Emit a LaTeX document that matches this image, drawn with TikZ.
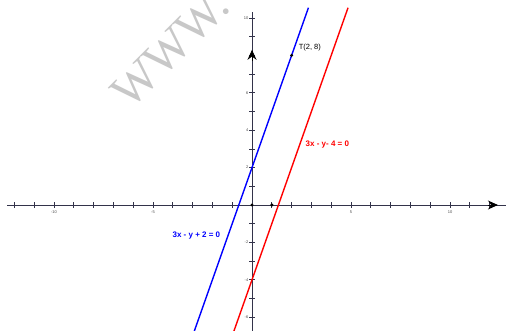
\documentclass[tikz,border=0pt]{standalone}
\usepackage{fontspec}
\setmainfont{Liberation Serif}
\setsansfont{Liberation Sans}
\usetikzlibrary{arrows.meta}
\definecolor{axiscol}{HTML}{33334A}
\definecolor{wm}{HTML}{C8C8C8}
\tikzset{
  axis/.style={draw=axiscol, line width=0.9pt},
  tickmark/.style={draw=axiscol, line width=0.7pt},
  ticklabel/.style={font=\sffamily\fontsize{4}{4}\selectfont, text=black!70, inner sep=0pt},
  dot/.style={circle, fill=black, inner sep=0pt, minimum size=3.4pt},
  blueline/.style={draw=blue, line width=1.4pt},
  redline/.style={draw=red, line width=1.4pt},
  eqlabel/.style={font=\sffamily\bfseries\fontsize{8}{8}\selectfont, inner sep=0pt},
  ptlabel/.style={font=\sffamily\fontsize{7.5}{7.5}\selectfont, inner sep=0pt, text=black},
  axishead/.style={-{Stealth[length=10pt,width=9pt]}, draw=black, fill=black, line width=0.9pt}
}
\begin{document}
\begin{tikzpicture}[x=1pt,y=-1pt]
\useasboundingbox (0,0) rectangle (508,331);
\clip (0,0) rectangle (508,331);
\fill[white] (0,0) rectangle (508,331);
% watermark
\node[rotate=45, text=wm, font=\rmfamily\fontsize{48}{48}\selectfont, inner sep=0pt] (wmark) at (170,49) {WWW.};
\begin{scope}[shift={(252pt,-205pt)}, x=19.8pt, y=18.7pt]
  % axes
  \coordinate (xl) at (-12.37,0);
  \coordinate (xr) at (12.83,0);
  \coordinate (yb) at (0,-7);
  \coordinate (yt) at (0,10.32);
  \draw[axis] (xl) -- (xr);
  \draw[axis] (yb) -- (yt);
  \foreach \i in {-12,...,12} {
    \draw[tickmark] (\i,0) ++(0,3pt) -- ++(0,-6pt);
  }
  \foreach \j in {-7,...,10} {
    \draw[tickmark] (0,\j) ++(-3pt,0) -- ++(6pt,0);
  }
  \foreach \i in {-10,-5,5,10} {
    \node[ticklabel] (xl\i) at ([yshift=-7pt]\i,0) {\i};
  }
  \foreach \j in {-6,-4,-2,2,4,6,10} {
    \node[ticklabel, anchor=east] (yl\j) at ([xshift=-3.5pt]0,\j) {\j};
  }
  % axis arrowheads
  \coordinate (xa1) at (11.9,0);
  \coordinate (xa2) at (12.42,0);
  \draw[axishead] (xa1) -- (xa2);
  \coordinate (ya1) at (0,7.7);
  \coordinate (ya2) at (0,8.3);
  \draw[axishead] (ya1) -- (ya2);
  % lines
  \coordinate (b1) at (-3,-7);
  \coordinate (b2) at (2.85,10.55);
  \coordinate (r1) at (-1,-7);
  \coordinate (r2) at (4.85,10.55);
  \draw[blueline] (b1) -- (b2);
  \draw[redline] (r1) -- (r2);
  % dots
  \node[dot] (O) at (0,0) {};
  \node[dot] (P) at (1,0) {};
  \node[dot] (T) at (2,8) {};
  % labels
  \node[ptlabel, anchor=west] (Tl) at ([xshift=7pt,yshift=8pt]T) {T(2, 8)};
  \node[eqlabel, text=red, anchor=west] (rl) at (2.7,3.22) {3x - y- 4 = 0};
  \node[eqlabel, text=blue, anchor=west] (bl) at (-4.02,-1.65) {3x - y + 2 = 0};
\end{scope}
\end{tikzpicture}
\end{document}
